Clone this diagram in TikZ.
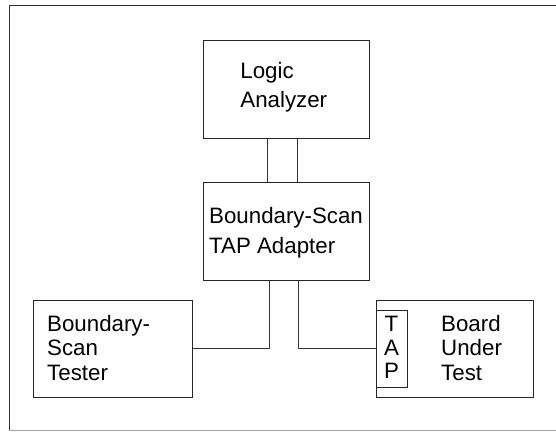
\documentclass[tikz,border=0pt]{standalone}
\usepackage{fontspec}
\setmainfont{Liberation Sans}
\begin{document}
\begin{tikzpicture}[x=1pt,y=-1pt,
  box/.style={draw=black!85,line width=1pt,inner sep=0pt},
  txt/.style={inner sep=0pt,anchor=north west,align=left},
  wire/.style={draw=black!80,line width=0.9pt}]
\useasboundingbox (0,0) rectangle (556,431);
% outer frame
\draw[black!80,line width=1pt] (9,430) -- (9,5) -- (556,5);
\draw[black!35,line width=1pt] (9,430) -- (556,430);
% boxes
\node[box,minimum width=166pt,minimum height=98pt] (la) at (286,89) {};
\node[box,minimum width=166pt,minimum height=98pt] (ad) at (286.3,231) {};
\node[box,minimum width=159pt,minimum height=97pt] (bst) at (113.2,348.5) {};
\node[box,minimum width=157.5pt,minimum height=97pt] (but) at (454.8,348.5) {};
\node[box,minimum width=31pt,minimum height=77pt] (tap) at (391.5,348.5) {};
% texts
\node[txt,font={\fontsize{22.3}{29}\selectfont}] (latxt) at (240.2,62) {Logic\\Analyzer};
\node[txt,font={\fontsize{22.3}{30}\selectfont}] (adtxt) at (209,207) {Boundary-Scan\\TAP Adapter};
\node[txt,font={\fontsize{22.3}{24.5}\selectfont}] (bsttxt) at (47,315) {Boundary-\\Scan\\Tester};
\node[txt,font={\fontsize{22.3}{24.5}\selectfont}] (buttxt) at (441,315) {Board\\Under\\Test};
\node[inner sep=0pt,anchor=north,align=center,font={\fontsize{22.3}{23.5}\selectfont}] (taptxt) at (391.5,316) {T\\A\\P};
% connectors
\draw[wire] (267.7,0 |- la.south) -- (267.7,0 |- ad.north);
\draw[wire] (297,0 |- la.south) -- (297,0 |- ad.north);
\draw[wire] (269.5,0 |- ad.south) |- (bst.east);
\draw[wire] (298.6,0 |- ad.south) |- (tap.west);
\end{tikzpicture}
\end{document}
